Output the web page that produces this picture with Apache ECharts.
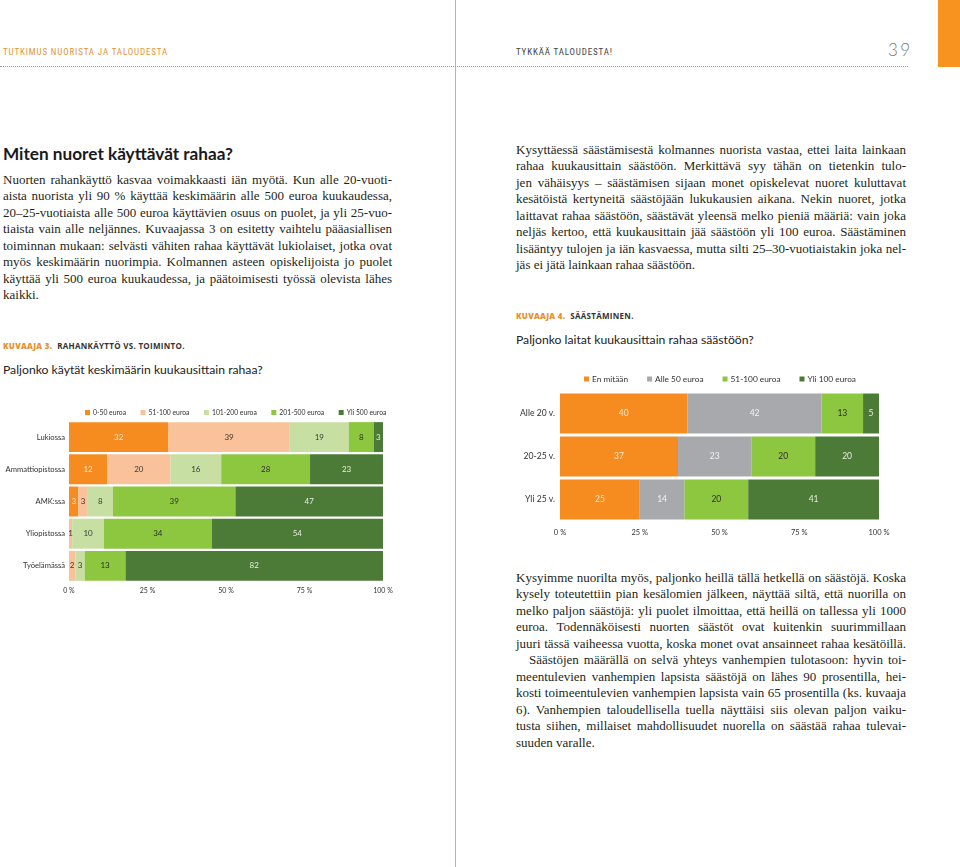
<!DOCTYPE html>
<html><head><meta charset="utf-8">
<script src="https://cdn.jsdelivr.net/npm/echarts@6/dist/echarts.min.js"></script>
<style>
html,body{margin:0;padding:0;background:#fff;}
#page{position:relative;width:960px;height:867px;overflow:hidden;background:#fff;}
.abs{position:absolute;}
.hdr{font-family:'Liberation Sans Narrow','Roboto Condensed','Open Sans',sans-serif;font-size:9px;letter-spacing:0.85px;line-height:10px;white-space:nowrap;}
.body{position:absolute;font-family:'Liberation Serif','DejaVu Serif',serif;font-size:13px;color:#231f20;}
.body div{height:16.5px;line-height:16.5px;white-space:nowrap;}
.kuv{font-family:'Open Sans',sans-serif;font-weight:700;font-size:8px;letter-spacing:0.3px;line-height:10px;white-space:nowrap;color:#333;}
.kuv b{color:#E8912D;}
.q{font-family:'Lato','Open Sans',sans-serif;font-size:12.2px;line-height:16px;color:#222;white-space:nowrap;}
</style></head>
<body><div id="page">
  <div class="abs" style="left:938px;top:0;width:22px;height:67px;background:#F7931E"></div>
  <div class="abs" style="left:455px;top:0;width:1px;height:867px;background:#b4b4b4"></div>
  <div class="abs" style="left:0;top:66px;width:908px;height:0;border-top:1px dotted #9a9a9a"></div>
  <div class="abs hdr" style="left:3px;top:47px;color:#E39436">TUTKIMUS NUORISTA JA TALOUDESTA</div>
  <div class="abs hdr" style="left:516px;top:47px;color:#444">TYKKÄÄ TALOUDESTA!</div>
  <div class="abs" style="left:888px;top:40px;font-family:'Lato','Open Sans',sans-serif;font-weight:300;font-size:17px;letter-spacing:2.5px;color:#777;line-height:20px">39</div>

  <div class="abs" style="left:3px;top:143px;font-family:'Lato','Open Sans',sans-serif;font-weight:700;font-size:17.2px;line-height:22px;color:#1a1a1a;white-space:nowrap">Miten nuoret käyttävät rahaa?</div>

  <div class="body" style="left:3px;top:171.8px;width:389px">
    <div class="j">Nuorten rahankäyttö kasvaa voimakkaasti iän myötä. Kun alle 20-vuoti-</div>
    <div class="j">aista nuorista yli 90 % käyttää keskimäärin alle 500 euroa kuukaudessa,</div>
    <div class="j">20–25-vuotiaista alle 500 euroa käyttävien osuus on puolet, ja yli 25-vuo-</div>
    <div class="j">tiaista vain alle neljännes. Kuvaajassa 3 on esitetty vaihtelu pääasiallisen</div>
    <div class="j">toiminnan mukaan: selvästi vähiten rahaa käyttävät lukiolaiset, jotka ovat</div>
    <div class="j">myös keskimäärin nuorimpia. Kolmannen asteen opiskelijoista jo puolet</div>
    <div class="j">käyttää yli 500 euroa kuukaudessa, ja päätoimisesti työssä olevista lähes</div>
    <div>kaikki.</div>
  </div>

  <div class="abs kuv" style="left:3px;top:341px"><b>KUVAAJA 3.</b>&nbsp; RAHANKÄYTTÖ VS. TOIMINTO.</div>
  <div class="abs q" style="left:3px;top:362px">Paljonko käytät keskimäärin kuukausittain rahaa?</div>

  <div class="body" style="left:516px;top:141.8px;width:390px">
    <div class="j">Kysyttäessä säästämisestä kolmannes nuorista vastaa, ettei laita lainkaan</div>
    <div class="j">rahaa kuukausittain säästöön. Merkittävä syy tähän on tietenkin tulo-</div>
    <div class="j">jen vähäisyys – säästämisen sijaan monet opiskelevat nuoret kuluttavat</div>
    <div class="j">kesätöistä kertyneitä säästöjään lukukausien aikana. Nekin nuoret, jotka</div>
    <div class="j">laittavat rahaa säästöön, säästävät yleensä melko pieniä määriä: vain joka</div>
    <div class="j">neljäs kertoo, että kuukausittain jää säästöön yli 100 euroa. Säästäminen</div>
    <div class="j">lisääntyy tulojen ja iän kasvaessa, mutta silti 25–30-vuotiaistakin joka nel-</div>
    <div>jäs ei jätä lainkaan rahaa säästöön.</div>
  </div>

  <div class="abs kuv" style="left:516px;top:311px"><b>KUVAAJA 4.</b>&nbsp; SÄÄSTÄMINEN.</div>
  <div class="abs q" style="left:516px;top:332px">Paljonko laitat kuukausittain rahaa säästöön?</div>

  <div class="body" style="left:516px;top:569.8px;width:390px">
    <div class="j">Kysyimme nuorilta myös, paljonko heillä tällä hetkellä on säästöjä. Koska</div>
    <div class="j">kysely toteutettiin pian kesälomien jälkeen, näyttää siltä, että nuorilla on</div>
    <div class="j">melko paljon säästöjä: yli puolet ilmoittaa, että heillä on tallessa yli 1000</div>
    <div class="j">euroa. Todennäköisesti nuorten säästöt ovat kuitenkin suurimmillaan</div>
    <div class="j">juuri tässä vaiheessa vuotta, koska monet ovat ansainneet rahaa kesätöillä.</div>
    <div class="j" style="padding-left:13px" data-w="377">Säästöjen määrällä on selvä yhteys vanhempien tulotasoon: hyvin toi-</div>
    <div class="j">meentulevien vanhempien lapsista säästöjä on lähes 90 prosentilla, hei-</div>
    <div class="j">kosti toimeentulevien vanhempien lapsista vain 65 prosentilla (ks. kuvaaja</div>
    <div class="j">6). Vanhempien taloudellisella tuella näyttäisi siis olevan paljon vaiku-</div>
    <div class="j">tusta siihen, millaiset mahdollisuudet nuorella on säästää rahaa tulevai-</div>
    <div>suuden varalle.</div>
  </div>

  <div id="c1" class="abs" style="left:0;top:395px;width:455px;height:210px"></div>
  <div id="c2" class="abs" style="left:456px;top:358px;width:504px;height:190px"></div>
</div>
<script>
// ---- Chart 3 data (Kuvaaja 3) ----
const cats1 = ['Lukiossa', 'Ammattiopistossa', 'AMK:ssa', 'Yliopistossa', 'Työelämässä'];
const legend1 = ['0-50 euroa', '51-100 euroa', '101-200 euroa', '201-500 euroa', 'Yli 500 euroa'];
const k3_0_50    = [32, 12, 3, 0, 0];
const k3_51_100  = [39, 20, 3, 1, 2];
const k3_101_200 = [19, 16, 8, 10, 3];
const k3_201_500 = [8, 28, 39, 34, 13];
const k3_yli500  = [3, 23, 47, 54, 82];

// ---- Chart 4 data (Kuvaaja 4) ----
const cats2 = ['Alle 20 v.', '20-25 v.', 'Yli 25 v.'];
const legend2 = ['En mitään', 'Alle 50 euroa', '51-100 euroa', 'Yli 100 euroa'];
const k4_ei      = [40, 37, 25];
const k4_alle50  = [42, 23, 14];
const k4_51_100  = [13, 20, 20];
const k4_yli100  = [5, 20, 41];

const tickLabels = ['0 %', '25 %', '50 %', '75 %', '100 %'];

// justify body lines
document.querySelectorAll('.j').forEach(el => {
  const target = el.dataset.w ? +el.dataset.w : el.parentNode.clientWidth;
  const span = document.createElement('span');
  span.textContent = el.textContent;
  el.textContent = '';
  el.appendChild(span);
  const w = span.getBoundingClientRect().width;
  const spaces = (span.textContent.match(/ /g) || []).length;
  if (spaces) span.style.wordSpacing = ((target - w) / spaces) + 'px';
});

function build(el, cats, names, rows, colors, labelColors, cfg) {
  const chart = echarts.init(el, null, { renderer: 'canvas' });
  const sums = cats.map((_, i) => rows.reduce((a, s) => a + s[i], 0));
  const series = rows.map((s, k) => ({
    name: names[k], type: 'bar', stack: 'all', barCategoryGap: cfg.gap,
    itemStyle: { color: colors[k] },
    label: {
      show: true, position: 'inside', color: labelColors[k],
      fontFamily: 'Lato', fontSize: cfg.labelSize,
      formatter: p => (p.data.raw > 0 ? String(p.data.raw) : '')
    },
    emphasis: { disabled: true },
    data: s.map((v, i) => ({ value: v / sums[i] * 100, raw: v }))
  }));
  chart.setOption({
    animation: false,
    textStyle: { fontFamily: 'Lato' },
    legend: {
      data: names, left: cfg.legendLeft, top: cfg.legendTop, itemWidth: 5, itemHeight: 5,
      itemGap: cfg.legendGap, icon: 'rect', selectedMode: false,
      textStyle: { fontSize: cfg.legendSize, color: '#333', fontFamily: 'Lato', padding: [0, 0, 0, -2] }
    },
    grid: cfg.grid,
    xAxis: {
      type: 'value', min: 0, max: 100, interval: 25,
      axisLine: { show: false }, axisTick: { show: false }, splitLine: { show: false },
      axisLabel: { fontSize: cfg.axisSize, color: '#333', margin: cfg.xMargin, formatter: v => tickLabels[v / 25] }
    },
    yAxis: {
      type: 'category', data: cats, inverse: true,
      axisLine: { show: false }, axisTick: { show: false },
      axisLabel: { fontSize: cfg.catSize, color: '#333', margin: cfg.yMargin }
    },
    series
  });
}

build(document.getElementById('c1'), cats1, legend1,
  [k3_0_50, k3_51_100, k3_101_200, k3_201_500, k3_yli500],
  ['#F68B1F', '#F9C29A', '#C7DFA2', '#8DC63F', '#4C7B37'],
  ['#fde7d0', '#3a3a3a', '#3a3a3a', '#2f2f2f', '#e6eee0'],
  { gap: '7%', labelSize: 8, legendLeft: 80, legendTop: 9, legendGap: 14.5, legendSize: 6.8,
    grid: { left: 69, top: 26, width: 314, height: 161 }, axisSize: 7, xMargin: 5, catSize: 7.6, yMargin: 4 });

build(document.getElementById('c2'), cats2, legend2,
  [k4_ei, k4_alle50, k4_51_100, k4_yli100],
  ['#F68B1F', '#A7A9AC', '#8DC63F', '#4C7B37'],
  ['#fde7d0', '#f4f4f4', '#2f2f2f', '#e6eee0'],
  { gap: '7%', labelSize: 8.5, legendLeft: 123, legendTop: 12, legendGap: 19, legendSize: 8.3,
    grid: { left: 104, top: 34, width: 319, height: 129 }, axisSize: 7.5, xMargin: 8, catSize: 8.6, yMargin: 5 });
</script>
</body></html>
